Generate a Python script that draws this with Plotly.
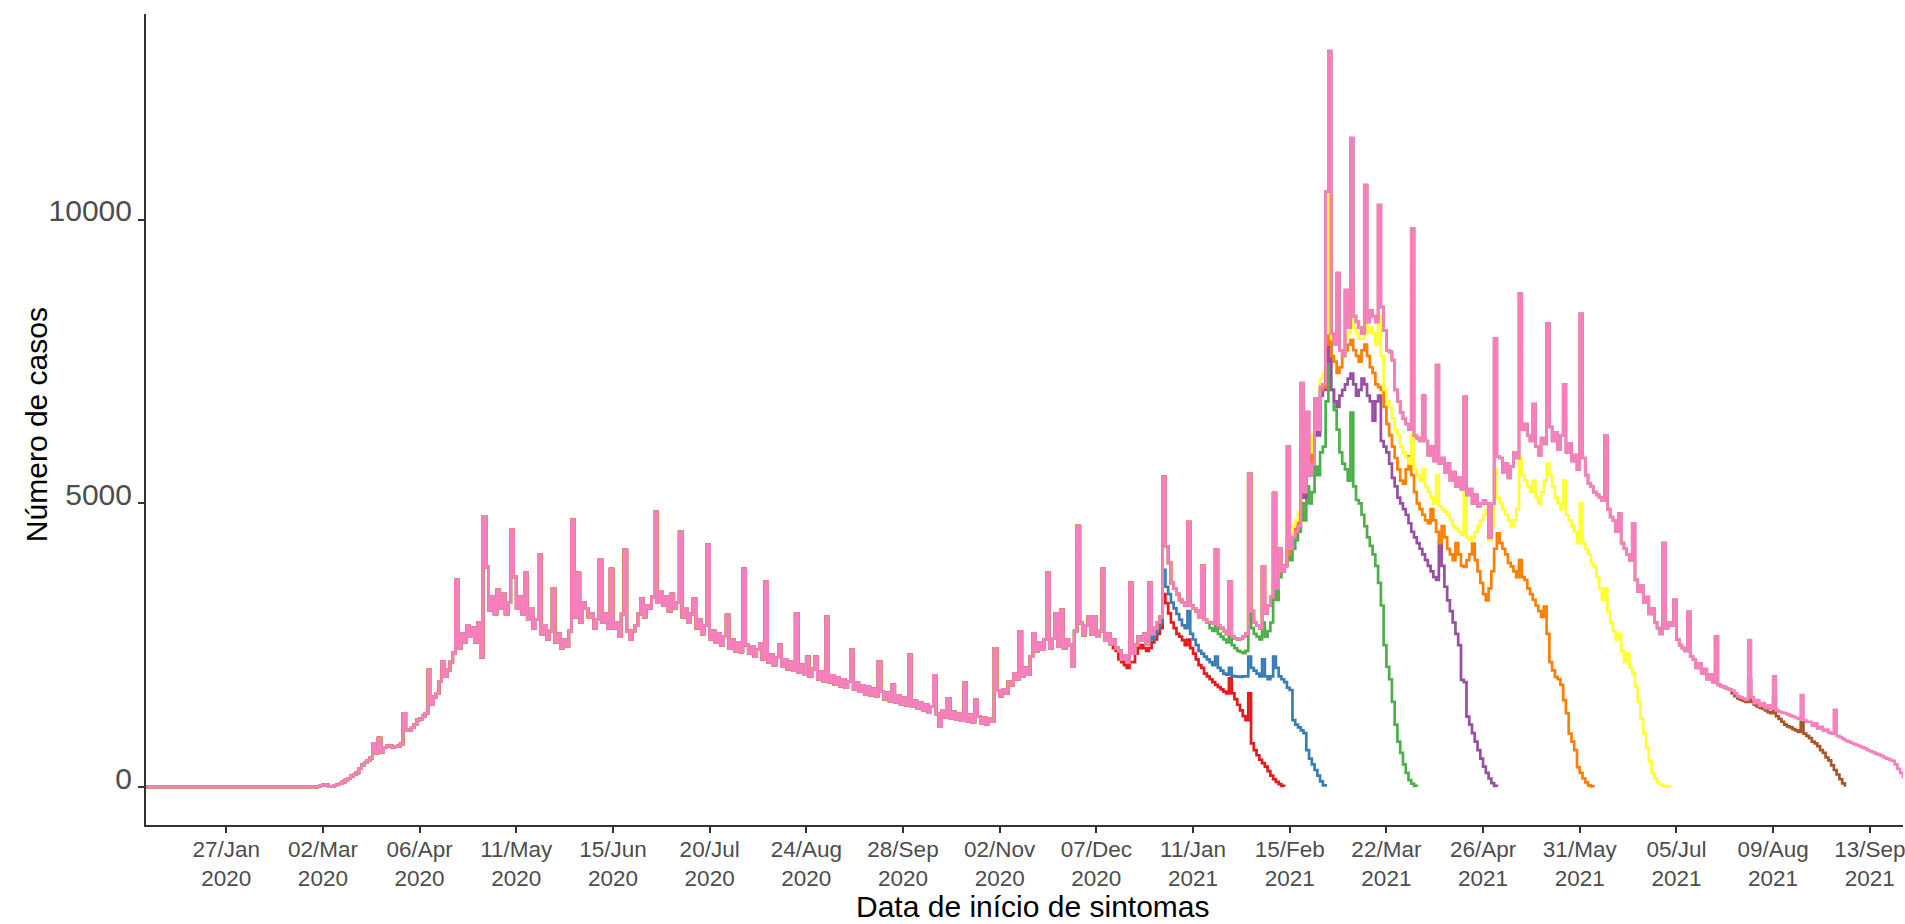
import pandas as pd
import plotly.graph_objects as go

# ---------------- data ----------------
inicio = "2019-12-29"   # first symptom-onset date in the series

# final snapshot (pink), daily values, one week per row (Sun..Sat)
casos_final = [
    0, 0, 0, 0, 0, 0, 0,
    0, 0, 0, 0, 0, 0, 0,
    0, 0, 0, 0, 0, 0, 0,
    0, 0, 0, 0, 0, 0, 0,
    0, 0, 0, 0, 0, 0, 0,
    0, 0, 0, 0, 0, 0, 0,
    0, 0, 0, 0, 0, 0, 0,
    0, 0, 0, 0, 0, 0, 0,
    0, 0, 0, 0, 0, 0, 10,
    30, 35, 35, 5, 5, 30, 40,
    60, 90, 120, 150, 190, 220, 250,
    330, 390, 430, 470, 510, 770, 600,
    860, 620, 700, 720, 730, 700, 710,
    720, 760, 1300, 1000, 1005, 1050, 1100,
    1180, 1200, 1250, 1300, 2060, 1450, 1590,
    1650, 1860, 2210, 1950, 2060, 2200, 2360,
    3650, 2450, 2700, 2550, 2850, 2650, 2800,
    2550, 2900, 2290, 4770, 3880, 3120, 3350,
    3050, 3470, 3150, 3400, 3050, 3250, 4530,
    3700, 3150, 3350, 3050, 3770, 2950, 3150,
    2800, 2950, 4090, 2700, 2850, 2600, 2750,
    3500, 2550, 2700, 2450, 2600, 2480, 2750,
    4710, 3000, 3770, 2900, 3250, 3150, 3000,
    3050, 2800, 2950, 4000, 2900, 3050, 2800,
    3840, 2800, 2900, 2650, 3050, 4180, 2750,
    2600, 2750, 2850, 3050, 3320, 3000, 3200,
    3150, 3350, 4850, 3250, 3450, 3200, 3350,
    3100, 3400, 3150, 3250, 4500, 3000, 3150,
    2900, 3050, 3320, 2800, 2950, 2700, 2850,
    4270, 2600, 2750, 2550, 2700, 2500, 2650,
    3030, 2450, 2600, 2400, 2550, 2380, 3850,
    2500, 2350, 2480, 2300, 2420, 2530, 2250,
    3620, 2200, 2330, 2150, 2280, 2500, 2120,
    2250, 2080, 2200, 2050, 3060, 2020, 2150,
    1980, 2300, 1950, 2080, 2300, 1900, 2030,
    1870, 3000, 1850, 1970, 1810, 1930, 1780,
    1900, 1750, 1860, 2415, 1720, 1830, 1680,
    1790, 1640, 1760, 1620, 1730, 1600, 2210,
    1680, 1550, 1660, 1520, 1800, 1500, 1610,
    1460, 1570, 1440, 2330, 1420, 1520, 1380,
    1480, 1350, 1450, 1310, 1420, 1970, 1290,
    1063, 1350, 1230, 1560, 1220, 1320, 1190,
    1290, 1170, 1830, 1160, 1270, 1140, 1530,
    1240, 1120, 1220, 1110, 1200, 1150, 2445,
    1700, 1600, 1720, 1650, 1850, 1800, 2000,
    1900, 2740, 1950, 2100, 1980, 2300, 2710,
    2400, 2550, 2420, 2600, 3770, 2450, 2620,
    3060, 2480, 3120, 2450, 2600, 2500, 2120,
    2750, 4600, 2890, 2680, 2850, 3010, 2700,
    3010, 2650, 2750, 3840, 2580, 2700, 2520,
    2600, 2450, 2400, 2250, 2320, 2200, 3600,
    2350, 2500, 2650, 2580, 2700, 2520, 3600,
    2700, 2800, 2900, 3000, 5470, 4240, 3950,
    3600, 3500, 3400, 3300, 3250, 3200, 4670,
    3200, 3150, 3100, 3000, 3900, 2950, 2900,
    2900, 2880, 4190, 2850, 2800, 2750, 2700,
    3620, 2650, 2620, 2600, 2620, 2650, 2700,
    5520, 3100, 2900, 2850, 2800, 3890, 3060,
    3200, 3350, 5180, 3500, 4200, 3800, 3900,
    6000, 4200, 4400, 4500, 4600, 7120, 5200,
    6610, 5500, 5700, 6850, 6300, 7050, 7100,
    10500, 12976, 8000, 7800, 9060, 7700, 7600,
    8760, 8100, 11440, 8300, 8200, 8100, 8000,
    10610, 8200, 8400, 8300, 8200, 10260, 8460,
    8050, 7700, 7670, 7525, 7000, 6800, 6600,
    6500, 6400, 6300, 9850, 6200, 6150, 6100,
    6900, 6100, 5850, 6000, 5750, 7440, 5700,
    5800, 5550, 5700, 5400, 5550, 5300, 5450,
    5250, 6880, 5150, 5250, 5000, 5150, 4950,
    5000, 5050, 5000, 4400, 5000, 7910, 5830,
    5800, 5550, 5700, 5450, 5650, 5900, 5800,
    8700, 6300, 6400, 6200, 6100, 6750, 6000,
    5850, 6150, 6050, 8170, 6350, 6100, 6250,
    5950, 6200, 7100, 5900, 6050, 5750, 5850,
    5600, 8340, 5800, 5500, 5350, 5300, 5200,
    5150, 5100, 5050, 6200, 4900, 4760, 4700,
    4500, 4820, 4300, 4200, 4100, 4000, 4650,
    3650, 3450, 3550, 3250, 3350, 3050, 3150,
    2900, 2800, 2700, 4300, 2800, 2900, 2850,
    3300, 2600, 2500, 2450, 2400, 3090, 2300,
    2250, 2100, 2180, 2000, 2080, 1900, 1980,
    1850, 2650, 1800, 1780, 1760, 1740, 1720,
    1700, 1650, 1600, 1580, 1560, 1540, 2590,
    1580, 1480, 1530, 1430, 1480, 1390, 1440,
    1380, 1950, 1350, 1330, 1310, 1300, 1280,
    1260, 1240, 1220, 1200, 1620, 1180, 1150,
    1150, 1080, 1120, 1030, 1060, 990, 1010,
    960, 940, 1360, 900, 880, 850, 820,
    800, 780, 760, 740, 720, 700, 680,
    650, 630, 610, 590, 570, 550, 520,
    500, 480, 460, 400, 320, 250, 180,
    150, 120, 100,
]

# earlier snapshots: they share the settled history with the final one and
# differ (still incomplete) from the date given in inicio_* onward
inicio_vermelho = "2020-12-13"
casos_vermelho = [
    2450, 2400, 2250, 2200, 2150, 2100, 2200,
    2200, 2350, 2450, 2500, 2450, 2400, 2450,
    2550, 2600, 2700, 2800, 3400, 3240, 3060,
    2900, 2800, 2700, 2650, 2590, 2500, 2600,
    2450, 2350, 2250, 2150, 2100, 2000, 1950,
    1900, 1850, 1800, 1760, 1720, 1680, 1650,
    1915, 1650, 1550, 1450, 1350, 1250, 1180,
    1650, 770, 650, 560, 480, 420, 360,
    280, 200, 140, 90, 50, 20, 5,
]

inicio_azul = "2020-12-27"
casos_azul = [
    2600, 2700, 2800, 2900, 3830, 3530, 3400,
    3250, 3150, 3050, 2950, 2850, 2800, 3100,
    2700, 2600, 2500, 2400, 2350, 2300, 2250,
    2200, 2150, 2300, 2100, 2050, 2000, 1980,
    2100, 1960, 1950, 1945, 1940, 1950, 1950,
    2300, 2100, 2050, 2000, 1950, 2250, 1950,
    1900, 1950, 2300, 2100, 1950, 1900, 1850,
    1750, 1710, 1180, 1100, 1050, 1000, 950,
    650, 500, 400, 300, 200, 100, 30,
    5,
]

inicio_verde = "2021-01-17"
casos_verde = [
    2800, 2750, 2900, 2700, 2650, 2600, 2550,
    2800, 2500, 2450, 2400, 2380, 2360, 2400,
    3060, 2800, 2700, 2650, 2600, 2900, 2650,
    2750, 2900, 3600, 3300, 3700, 3800, 3900,
    4300, 4000, 4200, 4350, 4500, 5000, 4700,
    5300, 5000, 5200, 5650, 5500, 5900, 6000,
    6800, 9000, 7000, 6650, 6300, 5900, 5700,
    5600, 5400, 6600, 5300, 5060, 5000, 4800,
    4600, 4400, 4250, 4100, 3900, 3600, 3200,
    2500, 2120, 1900, 1500, 1100, 800, 600,
    400, 250, 120, 60, 20, 5,
]

inicio_roxo = "2021-02-14"
casos_roxo = [
    4200, 4300, 4400, 4500, 4600, 5600, 5100,
    5700, 5500, 5800, 6300, 6200, 6900, 7000,
    7500, 9230, 7000, 6800, 6700, 6900, 7000,
    7100, 7200, 7290, 7100, 6900, 7000, 7200,
    7100, 6900, 6800, 6460, 6800, 6900, 6100,
    6000, 5900, 5700, 5450, 5300, 5100, 5000,
    4900, 4800, 4650, 4500, 4400, 4300, 4200,
    4100, 4000, 3900, 3800, 3700, 3650, 4290,
    3900, 3530, 3290, 3100, 2900, 2700, 2500,
    1890, 1850, 1240, 1100, 950, 800, 650,
    500, 360, 250, 150, 70, 20, 5,
]

inicio_laranja = "2021-02-14"
casos_laranja = [
    4100, 4300, 4450, 4550, 4700, 6000, 5300,
    5900, 5700, 6000, 6500, 6400, 7000, 7050,
    7800, 10400, 7600, 7500, 7300, 7400, 7600,
    7700, 7800, 7880, 7700, 7600, 7500, 7700,
    7800, 7600, 7400, 7300, 7100, 7050, 7000,
    6700, 6400, 6200, 6000, 5800, 5600, 5400,
    5350, 5600, 5830, 5500, 5200, 5000, 4900,
    4800, 4700, 4650, 4900, 4700, 4500, 4300,
    4600, 4400, 4200, 4100, 4000, 4300, 4100,
    3900, 3880, 4000, 4100, 4290, 4000, 3800,
    3600, 3400, 3290, 3500, 3800, 4200, 4470,
    4300, 4200, 4100, 3950, 3890, 3800, 3700,
    4000, 3700, 3650, 3500, 3400, 3300, 3200,
    3100, 3000, 3180, 2700, 2200, 2055, 1940,
    1900, 1800, 1530, 1300, 940, 800, 650,
    350, 250, 150, 80, 30, 10, 2,
]

inicio_amarelo = "2021-02-14"
casos_amarelo = [
    4300, 4450, 4600, 4700, 4850, 6300, 5400,
    6200, 5900, 6200, 6700, 6500, 7200, 7300,
    8000, 10450, 7900, 7800, 8000, 7700, 7600,
    7900, 8000, 9000, 8100, 8000, 7900, 7900,
    8400, 8000, 8100, 8000, 7800, 8300, 7600,
    7000, 6800, 6700, 6500, 6300, 6200, 6000,
    5900, 5800, 5700, 6200, 5600, 5500, 5400,
    5600, 5300, 5200, 5100, 5000, 5500, 4950,
    4900, 4850, 4800, 4700, 4600, 4550, 4500,
    4450, 5200, 4400, 4350, 4400, 4500, 4600,
    4700, 4800, 4900, 4350, 4600, 5600, 5100,
    5000, 4900, 4800, 4700, 4600, 4700, 4900,
    5800, 5500, 5400, 5300, 5200, 5400, 5100,
    5000, 5200, 5400, 5700, 5500, 5300, 5100,
    5000, 4900, 5400, 4800, 4700, 4600, 4500,
    4300, 5000, 4300, 4200, 4100, 3950, 3880,
    3700, 3500, 3300, 3500, 3100, 2900, 2750,
    2600, 2700, 2400, 2200, 2350, 2100, 2000,
    1770, 1500, 1200, 950, 700, 450, 250,
    150, 80, 40, 20, 10, 5, 2,
]

inicio_marrom = "2021-07-25"
casos_marrom = [
    1650, 1600, 1560, 1540, 1520, 1500, 1900,
    1500, 1450, 1420, 1400, 1380, 1350, 1320,
    1300, 1600, 1250, 1200, 1150, 1100, 1070,
    1050, 1020, 1000, 970, 1150, 940, 900,
    860, 800, 770, 720, 650, 600, 520,
    470, 380, 300, 220, 140, 65, 5,
]

# snapshot order (drawing order), colours (ColorBrewer Set1)
snapshots = [
    ("vermelho", inicio_vermelho, casos_vermelho, "#E41A1C"),
    ("azul", inicio_azul, casos_azul, "#377EB8"),
    ("verde", inicio_verde, casos_verde, "#4DAF4A"),
    ("roxo", inicio_roxo, casos_roxo, "#984EA3"),
    ("laranja", inicio_laranja, casos_laranja, "#FF7F00"),
    ("amarelo", inicio_amarelo, casos_amarelo, "#FFFF33"),
    ("marrom", inicio_marrom, casos_marrom, "#A65628"),
]
cor_final = "#F781BF"

tick_datas = pd.date_range("2020-01-27", "2021-09-13", freq="35D")

# ---------------- figure ----------------
t0 = pd.Timestamp(inicio)
datas_final = pd.date_range(t0, periods=len(casos_final), freq="D")

fig = go.Figure()
LW = 2.7
for nome, ini, cauda, cor in snapshots:
    k = (pd.Timestamp(ini) - t0).days
    vals = casos_final[:k] + cauda
    xs = pd.date_range(t0, periods=len(vals), freq="D")
    fig.add_trace(go.Scatter(x=xs, y=vals, mode="lines", name=nome,
                             line=dict(color=cor, width=LW, shape="hv"),
                             hoverinfo="skip"))
fig.add_trace(go.Scatter(x=datas_final, y=casos_final, mode="lines", name="final",
                         line=dict(color=cor_final, width=LW, shape="hv"),
                         hoverinfo="skip"))

axis_col = "#333333"
fig.update_layout(
    width=1905, height=924,
    margin=dict(l=146, r=0, t=14, b=99, pad=0),
    plot_bgcolor="white", paper_bgcolor="white",
    showlegend=False,
    font=dict(family="Arial, 'Liberation Sans', sans-serif", color="#000000"),
    xaxis=dict(
        type="date",
        range=["2019-12-28 23:00", "2021-09-25 00:30"],
        tickvals=list(tick_datas),
        ticktext=[f"{d:%d/%b}<br>{d:%Y}" for d in tick_datas],
        ticks="outside", ticklen=6, tickwidth=1.5, tickcolor=axis_col,
        showline=True, linecolor=axis_col, linewidth=2,
        showgrid=False, zeroline=False,
        tickfont=dict(size=22.5, color="#4D4D4D"),
        ticklabeloverflow="allow",
        ticklabelstandoff=-3,
    ),
    yaxis=dict(
        range=[-670, 13628],
        tickvals=[0, 5000, 10000],
        ticktext=["0", "5000", "10000"],
        ticks="outside", ticklen=6, tickwidth=1.5, tickcolor=axis_col,
        showline=True, linecolor=axis_col, linewidth=2,
        showgrid=False, zeroline=False,
        tickfont=dict(size=30, color="#4D4D4D"),
        ticklabelshift=-9,
    ),
    annotations=[
        dict(text="Data de início de sintomas", xref="paper", yref="paper",
             x=(1034 - 146) / 1759, y=(825 - 907) / 811,
             xanchor="center", yanchor="middle", showarrow=False,
             font=dict(size=30, color="#000000")),
        dict(text="Número de casos", xref="paper", yref="paper",
             x=(36 - 146) / 1759, y=(825 - 425) / 811, textangle=-90,
             xanchor="center", yanchor="middle", showarrow=False,
             font=dict(size=30, color="#000000")),
    ],
)

fig.write_html("out.html")
